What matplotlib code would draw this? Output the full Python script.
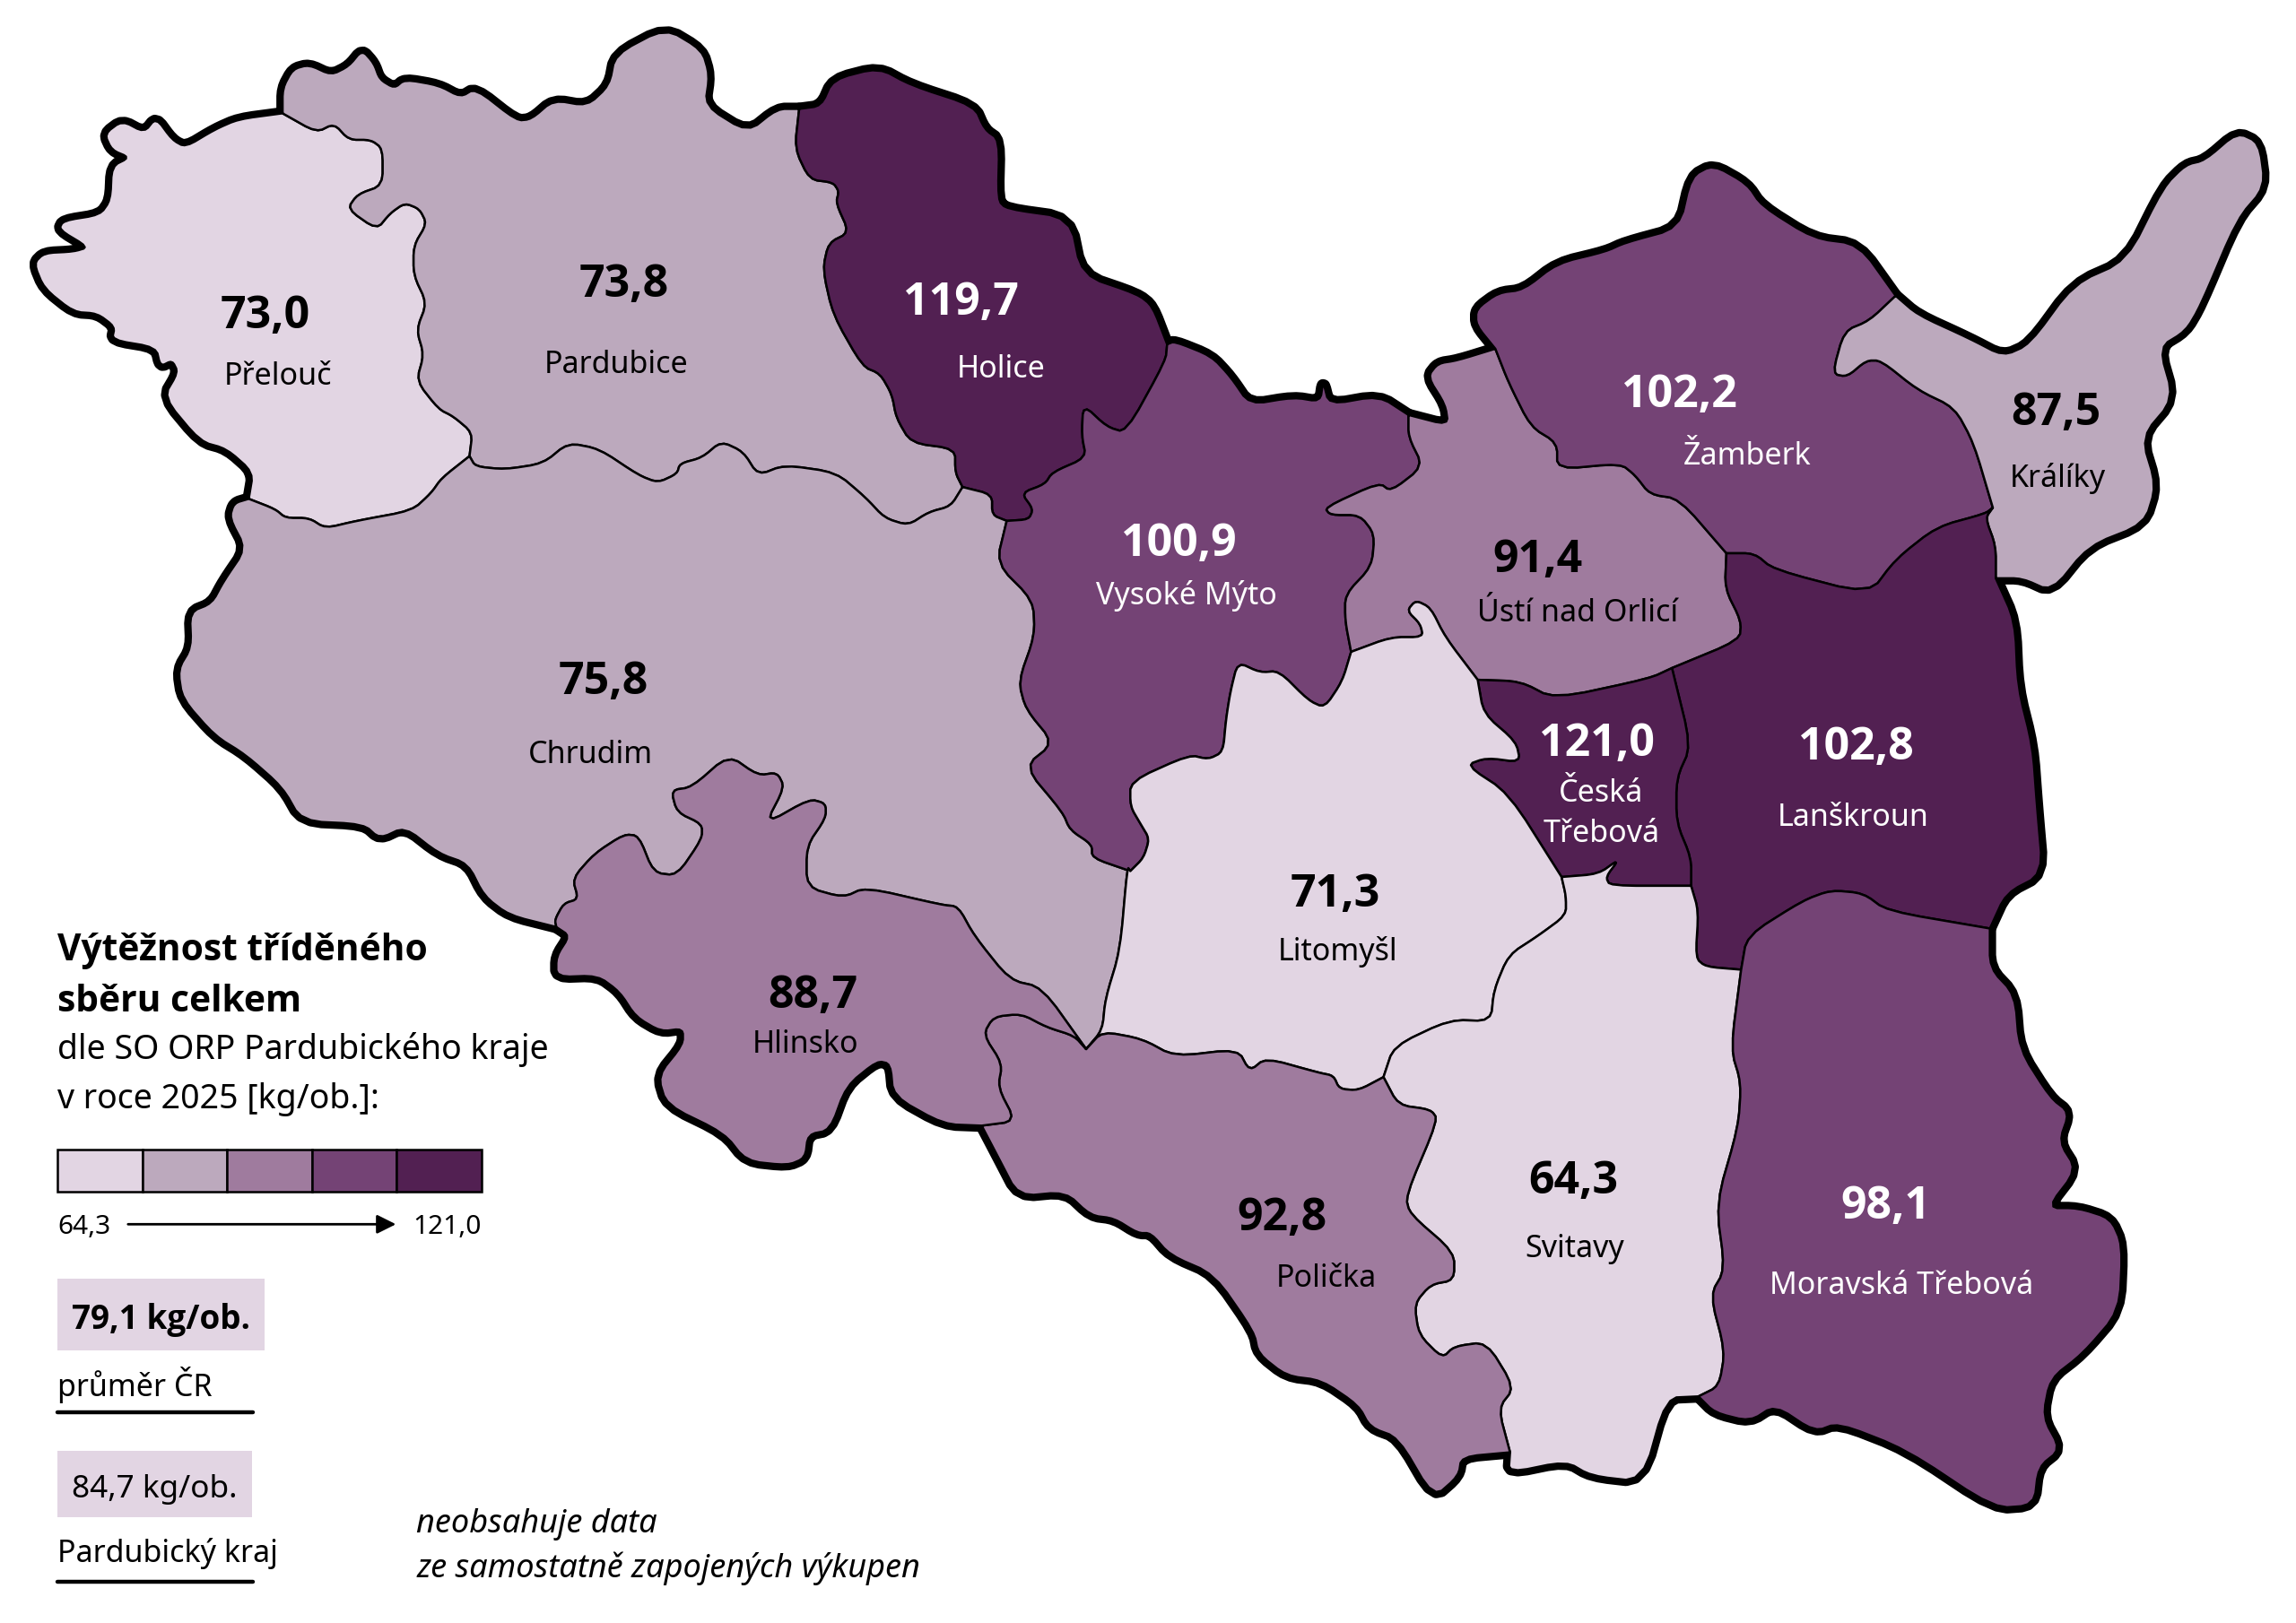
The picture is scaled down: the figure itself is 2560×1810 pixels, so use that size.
"""Pardubice region choropleth: sorted waste yield per ORP district, 2025."""

import matplotlib

matplotlib.use("Agg")
import matplotlib.pyplot as plt
from matplotlib import font_manager
from matplotlib.patches import Polygon, Rectangle

plt.rcParams["font.family"] = ["Noto Sans", "DejaVu Sans"]

FONT_VALUE = 36
FONT_NAME = 24.5
FONT_TITLE = 29.3
FONT_LEGEND = 27
FONT_CHIP_BOLD = 26.6
FONT_CHIP = 25.3
FONT_NOTE = 26
FONT_SMALL = 21.5

# district data
NAMES = ["Přelouč", "Pardubice", "Holice", "Chrudim", "Vysoké Mýto", "Ústí nad Orlicí",
         "Žamberk", "Králíky", "Lanškroun", "Česká\nTřebová", "Litomyšl", "Svitavy",
         "Moravská Třebová", "Polička", "Hlinsko"]
VALUES = [73.0, 73.8, 119.7, 75.8, 100.9, 91.4, 102.2, 87.5, 102.8, 121.0, 71.3, 64.3,
          98.1, 92.8, 88.7]
CLASSES = [0, 1, 4, 1, 3, 2, 3, 1, 4, 4, 0, 0, 3, 2, 2]
CLASS_COLORS = ["#E2D5E3", "#BCA9BD", "#9F7B9E", "#744375", "#522052"]

VALUE_POS = [(180, 215), (424, 194), (653, 206), (410, 464), (801, 370), (1045, 381),
             (1141, 269), (1397, 281), (1261, 508), (1085, 506), (907, 608), (1069, 803),
             (1281, 820), (871, 828), (552, 677)]
NAME_POS = [(189, 256), (419, 248), (680, 251), (401, 513), (806, 405), (1072, 417),
            (1187, 310), (1398, 325), (1259, 556), (1088, 553), (909, 647), (1070, 849),
            (1292, 874), (901, 869), (547, 710)]

# legend data
LEGEND_MIN = 64.3
LEGEND_MAX = 121.0
CR_AVERAGE = 79.1
KRAJ_AVERAGE = 84.7

# shared borders
PRE_OUT = [(192, 77), (162, 81), (146, 88), (126, 100), (117, 95), (106, 80), (98, 90), (83, 82),
           (71, 91), (76, 102), (88, 107), (76, 113), (75, 136), (68, 146), (43, 150), (40, 156),
           (60, 168), (50, 171), (30, 172), (23, 179), (30, 196), (50, 212), (66, 213), (78, 222),
           (76, 231), (106, 236), (109, 249), (117, 245), (121, 253), (111, 270), (136, 300),
           (154, 305), (172, 321), (169, 339)]
PRE_CHR = [(169, 339), (187, 346), (194, 352), (210, 352), (221, 359), (242, 354), (280, 347),
           (293, 335), (300, 325), (319, 310)]
PRE_PAR = [(319, 310), (321, 294), (308, 283), (298, 278), (283, 259), (288, 241), (283, 224),
           (290, 206), (281, 187), (281, 167), (290, 152), (285, 142), (275, 138), (265, 145),
           (256, 156), (236, 142), (243, 132), (260, 126), (260, 101), (252, 95), (237, 95),
           (227, 84), (215, 90), (192, 77)]
PAR_TOP = [(192, 77), (192, 60), (199, 47), (210, 44), (225, 51), (237, 45), (246, 34), (254, 43),
           (258, 54), (268, 60), (275, 54), (298, 58), (313, 66), (323, 60), (351, 82), (361, 81),
           (376, 68), (399, 72), (414, 58), (418, 37), (452, 19), (477, 34), (482, 51), (479, 72),
           (508, 90), (528, 74), (543, 74)]
PAR_HOL = [(543, 74), (540, 101), (550, 122), (566, 124), (570, 130), (568, 138), (577, 158),
           (563, 165), (559, 183), (566, 214), (586, 249), (598, 254), (606, 268), (609, 284),
           (619, 301), (649, 305), (649, 321), (654, 331)]
PAR_CHR = [(654, 331), (646, 344), (631, 348), (617, 357), (601, 352), (588, 338), (568, 321),
           (533, 316), (515, 323), (505, 307), (490, 300), (477, 311), (462, 315), (460, 322),
           (447, 328), (434, 323), (407, 305), (386, 301), (369, 315), (343, 319), (323, 317),
           (319, 310)]
HOL_TOP = [(543, 74), (558, 72), (566, 54), (597, 46), (619, 58), (662, 72), (669, 88), (679, 95),
           (678, 136), (684, 142), (727, 148), (735, 187), (773, 200), (783, 208), (793, 234)]
HOL_VM = [(793, 234), (792, 245), (765, 294), (752, 290), (736, 275), (735, 296), (738, 311),
          (715, 321), (710, 329), (694, 335), (702, 346), (699, 353), (684, 354)]
HOL_CHR = [(684, 354), (674, 350), (674, 336), (654, 331)]
CHR_VM = [(684, 354), (677, 383), (702, 408), (703, 432), (692, 463), (697, 482), (716, 505),
          (696, 521), (722, 552), (727, 564), (742, 574), (742, 583), (768, 592)]
CHR_OUT = [(169, 339), (159, 342), (156, 352), (167, 373), (152, 395), (144, 410), (129, 416),
           (130, 440), (121, 455), (124, 475), (146, 500), (167, 513), (192, 535), (205, 558),
           (247, 560), (258, 570), (275, 562), (298, 580), (318, 587), (329, 609), (346, 622),
           (378, 630)]
CHR_HLI = [(378, 630), (377, 625), (383, 614), (393, 611), (389, 597), (404, 580), (424, 567),
           (434, 568), (444, 593), (460, 595), (477, 570), (477, 560), (460, 552), (456, 537),
           (470, 535), (495, 513), (515, 527), (528, 525), (533, 535), (520, 560), (550, 543),
           (561, 546), (561, 556), (548, 575), (548, 603), (573, 610), (588, 603), (640, 615),
           (651, 616), (662, 636), (686, 666), (708, 671), (738, 713)]
CHR_LIT = [(738, 713), (749, 700), (751, 679), (761, 646), (766, 589), (768, 592)]
VM_TOP = [(793, 234), (798, 232), (823, 242), (836, 256), (849, 275), (879, 270), (897, 273),
          (899, 259), (903, 275), (937, 269), (957, 282)]
VM_UST = [(957, 282), (957, 297), (967, 317), (945, 334), (937, 328), (900, 345), (904, 350),
          (924, 350), (934, 363), (932, 385), (914, 404), (914, 422), (918, 443)]
VM_LIT = [(918, 443), (912, 463), (900, 481), (889, 476), (869, 456), (856, 457), (841, 450),
          (836, 470), (833, 489), (831, 511), (821, 516), (808, 513), (768, 531), (768, 548),
          (775, 560), (781, 570), (777, 583), (768, 592)]
UST_OUT = [(957, 282), (984, 289), (982, 275), (970, 256), (977, 247), (990, 245), (1016, 237)]
UST_ZAM = [(1016, 237), (1025, 260), (1040, 290), (1058, 301), (1058, 319), (1101, 315),
           (1111, 323), (1121, 336), (1141, 339), (1173, 376)]
UST_LAN = [(1136, 454), (1182, 435), (1183, 422), (1172, 400), (1173, 376)]
UST_CES = [(1004, 462), (1033, 463), (1056, 475), (1121, 461), (1136, 454)]
UST_LIT = [(918, 443), (945, 433), (967, 433), (965, 424), (956, 415), (962, 408), (972, 413),
           (982, 433), (1004, 462)]
ZAM_OUT = [(1016, 237), (1003, 221), (1003, 210), (1018, 199), (1035, 197), (1058, 179),
           (1091, 171), (1104, 165), (1141, 155), (1149, 120), (1164, 112), (1187, 125),
           (1197, 140), (1232, 162), (1263, 166), (1288, 201)]
ZAM_KRA = [(1288, 201), (1270, 218), (1253, 225), (1245, 254), (1255, 256), (1268, 245),
           (1278, 245), (1303, 265), (1328, 277), (1341, 301), (1354, 345)]
ZAM_LAN = [(1173, 376), (1192, 376), (1205, 387), (1270, 404), (1288, 380), (1316, 358),
           (1349, 349), (1354, 345)]
KRA_OUT = [(1288, 201), (1303, 214), (1338, 230), (1361, 242), (1379, 234), (1409, 193),
           (1445, 177), (1470, 127), (1485, 112), (1498, 109), (1520, 90), (1535, 97), (1539, 127),
           (1520, 149), (1495, 208), (1485, 225), (1467, 236), (1477, 271), (1455, 297),
           (1465, 330), (1457, 356), (1419, 371), (1394, 402), (1374, 393), (1356, 393)]
KRA_LAN = [(1356, 393), (1356, 371), (1349, 352), (1354, 345)]
LAN_OUT = [(1356, 393), (1369, 422), (1371, 467), (1381, 507), (1384, 548), (1388, 594),
           (1363, 607), (1352, 631)]
LAN_MOR = [(1352, 631), (1282, 619), (1266, 607), (1244, 605), (1225, 612), (1187, 636),
           (1183, 659)]
LAN_SVI = [(1183, 659), (1159, 657), (1152, 651), (1154, 619), (1149, 602)]
CES_LAN = [(1136, 454), (1149, 507), (1139, 529), (1139, 559), (1149, 583), (1149, 602)]
CES_SVI = [(1149, 602), (1094, 602), (1091, 596), (1100, 584), (1086, 594), (1061, 596)]
CES_LIT = [(1004, 462), (1008, 485), (1030, 504), (1033, 518), (1010, 515), (996, 520),
           (1025, 539), (1061, 596)]
LIT_SVI = [(1061, 596), (1064, 609), (1064, 622), (1045, 636), (1025, 649), (1015, 673),
           (1013, 694), (985, 693), (947, 711), (940, 732)]
POL_LIT = [(738, 713), (749, 701), (776, 706), (798, 718), (841, 713), (849, 728), (860, 719),
           (896, 729), (906, 731), (910, 740), (923, 741), (940, 732)]
POL_SVI = [(940, 732), (950, 751), (972, 754), (977, 761), (955, 813), (958, 825), (988, 851),
           (988, 870), (972, 873), (961, 886), (964, 907), (980, 923), (988, 915), (1010, 912),
           (1029, 943), (1018, 957), (1026, 987)]
SVI_OUT = [(1026, 987), (1025, 1001), (1064, 993), (1081, 1003), (1116, 1007), (1132, 950),
           (1154, 949)]
SVI_MOR = [(1154, 949), (1168, 942), (1172, 918), (1162, 880), (1172, 863), (1166, 818),
           (1181, 766), (1183, 736), (1176, 713), (1183, 659)]
MOR_OUT = [(1352, 631), (1352, 658), (1369, 676), (1372, 713), (1393, 746), (1406, 756),
           (1399, 776), (1411, 795), (1391, 821), (1412, 821), (1434, 828), (1442, 846),
           (1440, 891), (1415, 920), (1393, 937), (1388, 963), (1400, 985), (1385, 997),
           (1382, 1023), (1355, 1025), (1295, 985), (1249, 967), (1233, 973), (1206, 955),
           (1189, 966), (1165, 960), (1154, 949)]
POL_OUT = [(667, 765), (678, 786), (692, 813), (724, 810), (741, 826), (757, 828), (773, 838),
           (782, 838), (795, 853), (825, 866), (852, 905), (855, 920), (874, 935), (898, 938),
           (923, 955), (931, 970), (950, 977), (974, 1018), (991, 1003), (993, 990), (1026, 987)]
HLI_OUT = [(378, 630), (387, 636), (378, 650), (378, 664), (406, 663), (421, 674), (432, 691),
           (449, 701), (464, 699), (464, 710), (447, 731), (453, 751), (492, 770), (507, 789),
           (535, 792), (547, 787), (549, 771), (564, 768), (575, 738), (596, 721), (605, 723),
           (607, 745), (641, 764), (667, 765)]
HLI_POL = [(667, 765), (690, 762), (678, 739), (681, 723), (668, 703), (675, 691), (694, 689),
           (711, 698), (730, 704), (738, 713)]


def rev(arc):
    return arc[::-1]


def smooth(arc, rounds=2, cut=0.2):
    # corner cutting, arc ends stay put so neighbours still meet
    for _ in range(rounds):
        pts = [arc[0]]
        for (x0, y0), (x1, y1) in zip(arc[:-1], arc[1:]):
            pts.append(((1 - cut) * x0 + cut * x1, (1 - cut) * y0 + cut * y1))
            pts.append((cut * x0 + (1 - cut) * x1, cut * y0 + (1 - cut) * y1))
        pts.append(arc[-1])
        arc = pts
    return arc


def ring(*arcs):
    pts = []
    for arc in arcs:
        pts.extend(smooth(arc))
    return pts


def bold_family():
    # not every installed family ships a real bold cut
    for family in ["Open Sans", "Noto Sans", "Lato", "Roboto", "Liberation Sans"]:
        for f in font_manager.fontManager.ttflist:
            if f.name == family and f.weight in (700, "bold"):
                return family
    return "DejaVu Sans"


RINGS = [
    ring(PRE_OUT, PRE_CHR, PRE_PAR),
    ring(PAR_TOP, PAR_HOL, PAR_CHR, PRE_PAR),
    ring(HOL_TOP, HOL_VM, HOL_CHR, rev(PAR_HOL)),
    ring(CHR_OUT, CHR_HLI, CHR_LIT, rev(CHR_VM), HOL_CHR, PAR_CHR, rev(PRE_CHR)),
    ring(VM_TOP, VM_UST, VM_LIT, rev(CHR_VM), rev(HOL_VM)),
    ring(UST_OUT, UST_ZAM, rev(UST_LAN), rev(UST_CES), rev(UST_LIT), rev(VM_UST)),
    ring(ZAM_OUT, ZAM_KRA, rev(ZAM_LAN), rev(UST_ZAM)),
    ring(KRA_OUT, KRA_LAN, rev(ZAM_KRA)),
    ring(LAN_OUT, LAN_MOR, LAN_SVI, rev(CES_LAN), UST_LAN, ZAM_LAN, rev(KRA_LAN)),
    ring(UST_CES, CES_LAN, CES_SVI, rev(CES_LIT)),
    ring(UST_LIT, CES_LIT, LIT_SVI, rev(POL_LIT), CHR_LIT, rev(VM_LIT)),
    ring(CES_SVI, LIT_SVI, POL_SVI, SVI_OUT, SVI_MOR, LAN_SVI),
    ring(MOR_OUT, SVI_MOR, rev(LAN_MOR)),
    ring(POL_OUT, rev(POL_SVI), rev(POL_LIT), rev(HLI_POL)),
    ring(HLI_OUT, HLI_POL, rev(CHR_HLI)),
]


def comma(v):
    return f"{v:.1f}".replace(".", ",")


BOLD = bold_family()

fig = plt.figure(figsize=(25.6, 18.1), dpi=100)
ax = fig.add_axes([0, 0, 1, 1])
ax.set_xlim(0, 1560)
ax.set_ylim(1103, 0)
ax.axis("off")

# thick stroke first: fills cover its inner half, so only the outer border stays heavy
for pts in RINGS:
    ax.add_patch(Polygon(pts, closed=True, fc="black", ec="black", lw=10, joinstyle="round", zorder=1))
for pts, cls in zip(RINGS, CLASSES):
    ax.add_patch(Polygon(pts, closed=True, fc=CLASS_COLORS[cls], ec="black", lw=1.8,
                         joinstyle="round", zorder=2))

for name, value, cls, vpos, npos in zip(NAMES, VALUES, CLASSES, VALUE_POS, NAME_POS):
    color = "white" if cls >= 3 else "black"
    ax.text(*vpos, comma(value), color=color, fontsize=FONT_VALUE, family=BOLD, fontweight="bold",
            ha="center", va="center", zorder=3)
    ax.text(*npos, name, color=color, fontsize=FONT_NAME, ha="center", va="center",
            linespacing=1.45, zorder=3)

# legend
ax.text(39, 646, "Výtěžnost tříděného", fontsize=FONT_TITLE, family=BOLD, fontweight="bold", va="center")
ax.text(39, 681, "sběru celkem", fontsize=FONT_TITLE, family=BOLD, fontweight="bold", va="center")
ax.text(39, 713, "dle SO ORP Pardubického kraje", fontsize=FONT_LEGEND, va="center")
ax.text(39, 747, "v roce 2025 [kg/ob.]:", fontsize=FONT_LEGEND, va="center")

step = (327 - 39) / len(CLASS_COLORS)
for i, color in enumerate(CLASS_COLORS):
    ax.add_patch(Rectangle((39 + i * step, 781), step, 29, fc=color, ec="black", lw=1.8))

ax.text(39, 834, comma(LEGEND_MIN), fontsize=FONT_SMALL, va="center")
ax.text(327, 834, comma(LEGEND_MAX), fontsize=FONT_SMALL, va="center", ha="right")
ax.annotate("", xy=(269, 832), xytext=(87, 832),
            arrowprops=dict(arrowstyle="-|>", color="black", lw=2, mutation_scale=32, shrinkA=0, shrinkB=0))

ax.add_patch(Rectangle((39, 869), 141, 49, fc=CLASS_COLORS[0], ec="none"))
ax.text(49, 897, f"{comma(CR_AVERAGE)} kg/ob.", fontsize=FONT_CHIP_BOLD, family=BOLD, fontweight="bold", va="center")
ax.text(39, 941, "průměr ČR", fontsize=FONT_NAME, va="center")
ax.plot([39, 172], [960, 960], color="black", lw=3.2, solid_capstyle="round")

ax.add_patch(Rectangle((39, 986), 132, 45, fc=CLASS_COLORS[0], ec="none"))
ax.text(49, 1012, f"{comma(KRAJ_AVERAGE)} kg/ob.", fontsize=FONT_CHIP, va="center")
ax.text(39, 1056, "Pardubický kraj", fontsize=FONT_NAME, va="center")
ax.plot([39, 172], [1075, 1075], color="black", lw=3.2, solid_capstyle="round")

ax.text(283, 1036, "neobsahuje data", fontsize=FONT_NOTE, style="italic", va="center")
ax.text(283, 1066, "ze samostatně zapojených výkupen", fontsize=FONT_NOTE, style="italic", va="center")

fig.savefig("out.png", dpi=100)
plt.close(fig)
